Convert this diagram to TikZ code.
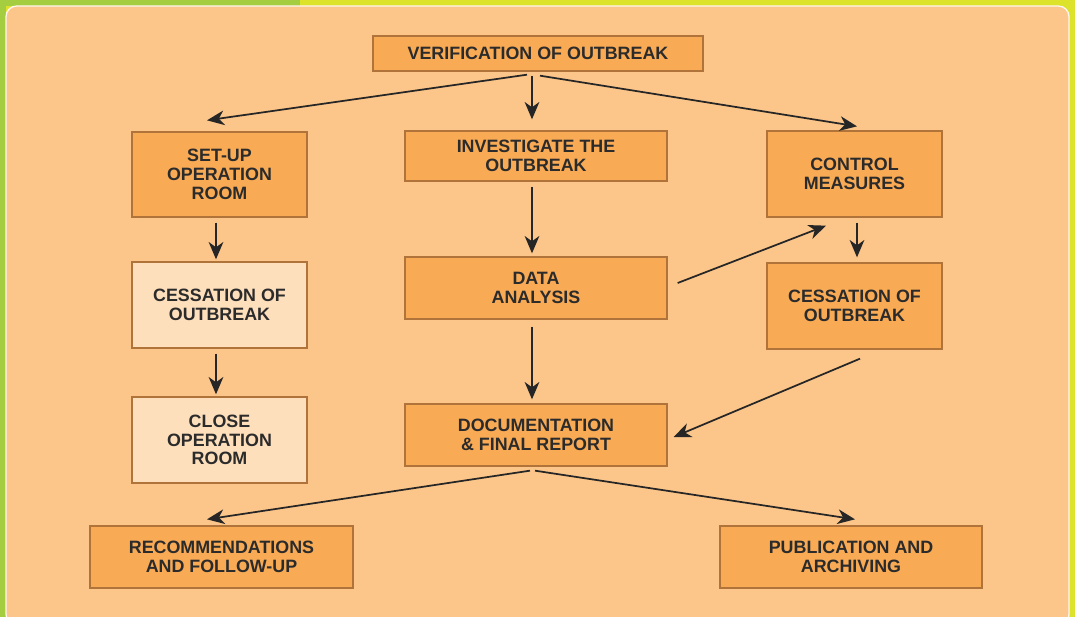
\documentclass[tikz,border=0pt]{standalone}
\usepackage{fontspec}
\setmainfont{Liberation Sans}
\usetikzlibrary{arrows.meta,calc}
\definecolor{bggreen}{HTML}{A4CE3F}
\definecolor{bgyellow}{HTML}{DDE32B}
\definecolor{panel}{HTML}{FCC68A}
\definecolor{boxfill}{HTML}{F8AA55}
\definecolor{lightfill}{HTML}{FEDFBC}
\definecolor{boxdraw}{HTML}{B0743A}
\definecolor{txt}{HTML}{2B2B2B}
\tikzset{
  box/.style={draw=boxdraw, fill=boxfill, line width=1pt, align=center, inner sep=0pt,
    text=txt, font=\fontsize{13.4}{14}\selectfont\bfseries},
  lightbox/.style={box, fill=lightfill},
  arr/.style={draw=black!85, line width=1.3pt, -{Stealth[length=13pt,width=11pt,inset=4pt]}}
}
\begin{document}
\begin{tikzpicture}[x=0.75pt,y=-0.75pt]
\useasboundingbox (0,0) rectangle (1075,617);
% background frame
\fill[bgyellow] (0,0) rectangle (1075,617);
\fill[bggreen] (0,0) rectangle (300,6);
\fill[bggreen] (0,0) rectangle (6,617);
\fill[panel, draw=white!85!panel, line width=1pt, rounded corners=8pt] (6,6) rectangle (1069,625);
% nodes
\node[box, minimum width=330*0.75pt, minimum height=35*0.75pt] (ver) at (538,53.5) {VERIFICATION OF OUTBREAK};
\node[box, minimum width=175*0.75pt, minimum height=85*0.75pt] (setup) at (219.5,174.5) {SET-UP\\OPERATION\\ROOM};
\node[box, minimum width=262*0.75pt, minimum height=50*0.75pt] (inv) at (536,156) {INVESTIGATE THE\\OUTBREAK};
\node[box, minimum width=175*0.75pt, minimum height=86*0.75pt] (ctrl) at (854.5,174) {CONTROL\\MEASURES};
\node[lightbox, minimum width=175*0.75pt, minimum height=86*0.75pt] (cessL) at (219.5,305) {CESSATION OF\\OUTBREAK};
\node[box, minimum width=262*0.75pt, minimum height=62*0.75pt] (data) at (536,288) {DATA\\ANALYSIS};
\node[box, minimum width=175*0.75pt, minimum height=86*0.75pt] (cessR) at (854.5,306) {CESSATION OF\\OUTBREAK};
\node[lightbox, minimum width=175*0.75pt, minimum height=86*0.75pt] (close) at (219.5,440) {CLOSE\\OPERATION\\ROOM};
\node[box, minimum width=262*0.75pt, minimum height=62*0.75pt] (doc) at (536,435) {DOCUMENTATION\\\& FINAL REPORT};
\node[box, minimum width=263*0.75pt, minimum height=62*0.75pt] (rec) at (221.5,557) {RECOMMENDATIONS\\AND FOLLOW-UP};
\node[box, minimum width=262*0.75pt, minimum height=62*0.75pt] (pub) at (851,557) {PUBLICATION AND\\ARCHIVING};
% connectors
\draw[arr] ($(ver.south)+(-11,3)$) -- ($(setup.north)+(-12.5,-11)$);
\draw[arr] ($(ver.south)+(-6,4)$) -- ($(inv.north)+(-4,-11)$);
\draw[arr] ($(ver.south)+(2,4)$) -- ($(ctrl.north)+(2.5,-4)$);
\draw[arr] ($(setup.south)+(-3.5,5)$) -- ($(cessL.north)+(-3.5,-2)$);
\draw[arr] ($(cessL.south)+(-3.5,5)$) -- ($(close.north)+(-3.5,-2)$);
\draw[arr] ($(inv.south)+(-4,5)$) -- ($(data.north)+(-4,-3)$);
\draw[arr] ($(data.east)+(10,-5)$) -- ($(ctrl.south)+(-28.5,8)$);
\draw[arr] ($(ctrl.south)+(2.5,5)$) -- ($(cessR.north)+(2.5,-5)$);
\draw[arr] ($(cessR.south)+(5.5,9)$) -- ($(doc.east)+(6,2)$);
\draw[arr] ($(data.south)+(-4,7)$) -- ($(doc.north)+(-4,-4)$);
\draw[arr] ($(doc.south)+(-6,4)$) -- ($(rec.north)+(-14.5,-6)$);
\draw[arr] ($(doc.south)+(-1,4)$) -- ($(pub.north)+(4,-6)$);
\end{tikzpicture}
\end{document}
